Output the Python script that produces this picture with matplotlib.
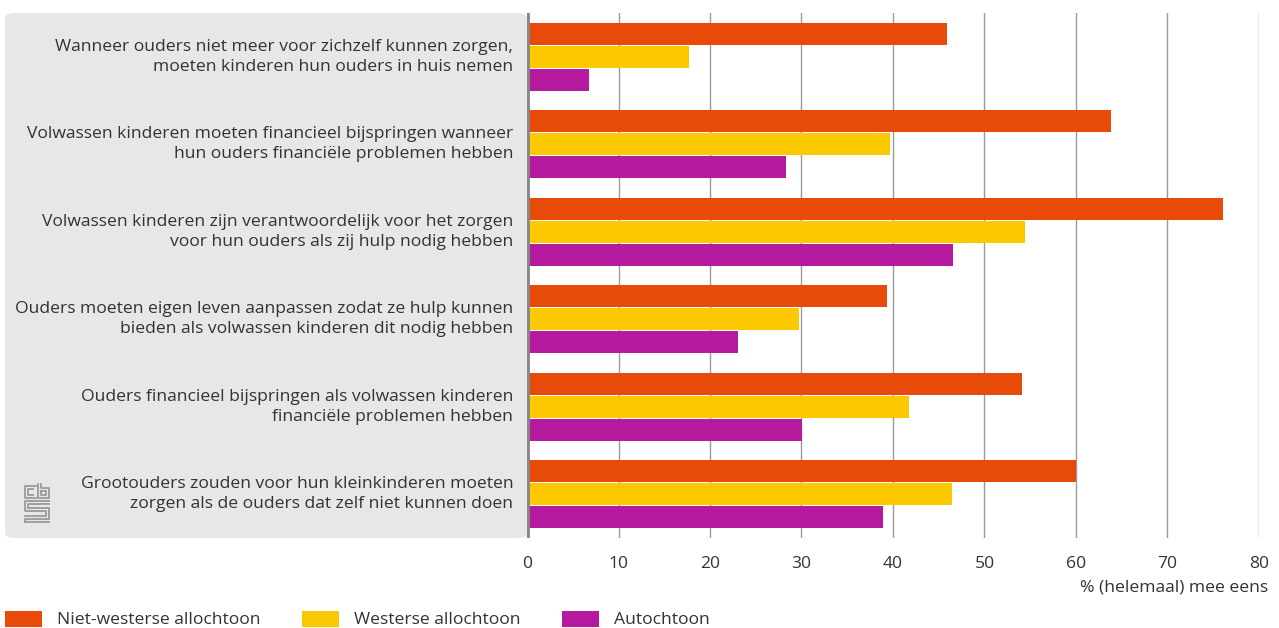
import matplotlib.pyplot as plt
from matplotlib.patches import FancyBboxPatch, Rectangle
import numpy as np

categories = [
    'Wanneer ouders niet meer voor zichzelf kunnen zorgen,\nmoeten kinderen hun ouders in huis nemen',
    'Volwassen kinderen moeten financieel bijspringen wanneer\nhun ouders financiële problemen hebben',
    'Volwassen kinderen zijn verantwoordelijk voor het zorgen\nvoor hun ouders als zij hulp nodig hebben',
    'Ouders moeten eigen leven aanpassen zodat ze hulp kunnen\nbieden als volwassen kinderen dit nodig hebben',
    'Ouders financieel bijspringen als volwassen kinderen\nfinanciële problemen hebben',
    'Grootouders zouden voor hun kleinkinderen moeten\nzorgen als de ouders dat zelf niet kunnen doen',
]
series_names = ['Niet-westerse allochtoon', 'Westerse allochtoon', 'Autochtoon']
niet_westers = [45.9, 63.8, 76.1, 39.3, 54.1, 60.0]
westers = [17.7, 39.7, 54.4, 29.7, 41.7, 46.4]
autochtoon = [6.8, 28.3, 46.6, 23.1, 30.1, 38.9]
colors = ['#e84a0a', '#fcc800', '#b4199e']
xticks = [0, 10, 20, 30, 40, 50, 60, 70, 80]

plt.rcParams['font.family'] = ['Open Sans', 'DejaVu Sans']
FS = 12.6
W, H = 1279, 628
fig = plt.figure(figsize=(W / 100, H / 100), dpi=100)

# grey label panel
panel = FancyBboxPatch((5 / W, (H - 538) / H), 522 / W, 525 / H,
                       boxstyle='round,pad=0,rounding_size=0.008',
                       transform=fig.transFigure, facecolor='#e6e7e6',
                       edgecolor='none', zorder=0)
fig.patches.append(panel)

ax = fig.add_axes([527 / W, (H - 538) / H, 732 / W, 525 / H])
ax.set_zorder(2)
ax.set_facecolor('none')

n = len(categories)
y = np.arange(n)
h = 0.25
step = 0.262
for i, (vals, c) in enumerate(zip([niet_westers, westers, autochtoon], colors)):
    ax.barh(y + (i - 1) * step, vals, height=h, color=c, zorder=3)

ax.set_ylim(n - 0.5, -0.5)
ax.set_xlim(0, 80)
ax.set_xticks(xticks)
ax.set_xticklabels([str(t) for t in xticks], fontsize=FS, color='#333333')
ax.tick_params(axis='x', length=0, pad=13)
ax.set_yticks([])
for s in ax.spines.values():
    s.set_visible(False)
for t in xticks[1:]:
    ax.axvline(t, color='#9a9a9a', lw=1, zorder=1)
ax.axvline(0, color='#888888', lw=3.5, zorder=4)

for i, cat in enumerate(categories):
    ax.text(-1.5, i, cat, ha='right', va='center', fontsize=FS,
            color='#333333', linespacing=1.35)

fig.text(1268 / W, (H - 587) / H, '% (helemaal) mee eens', ha='right',
         va='center', fontsize=FS, color='#333333')

# legend
legend_x = [5, 302, 562]
for x0, c, name in zip(legend_x, colors, series_names):
    fig.patches.append(Rectangle((x0 / W, (H - 627) / H), 37 / W, 16 / H,
                                 transform=fig.transFigure, facecolor=c,
                                 edgecolor='none'))
    fig.text((x0 + 52) / W, (H - 620) / H, name, ha='left', va='center',
             fontsize=FS, color='#333333')

# cbs logo, rough outline
def px(xs, ys):
    return [x / W for x in xs], [(H - yy) / H for yy in ys]

logo = [
    ([36, 25, 25, 36], [486, 486, 498, 498]),
    ([33, 28, 28, 33], [489, 489, 495, 495]),
    ([38, 38, 49, 49, 41, 41], [484, 498, 498, 488, 488, 484]),
    ([41, 46, 46, 41, 41], [491, 491, 495, 495, 491]),
    ([49, 25, 25, 46, 46, 25], [501, 501, 511, 511, 516, 516]),
    ([49, 28, 28, 49, 49, 25, 25], [504, 504, 508, 508, 519, 519, 522]),
    ([49, 25], [522, 522]),
]
for xs, ys in logo:
    fx, fy = px(xs, ys)
    fig.add_artist(plt.Line2D(fx, fy, color='#9a9a9a', lw=1.3,
                              transform=fig.transFigure))

fig.savefig('out.png', dpi=100)
